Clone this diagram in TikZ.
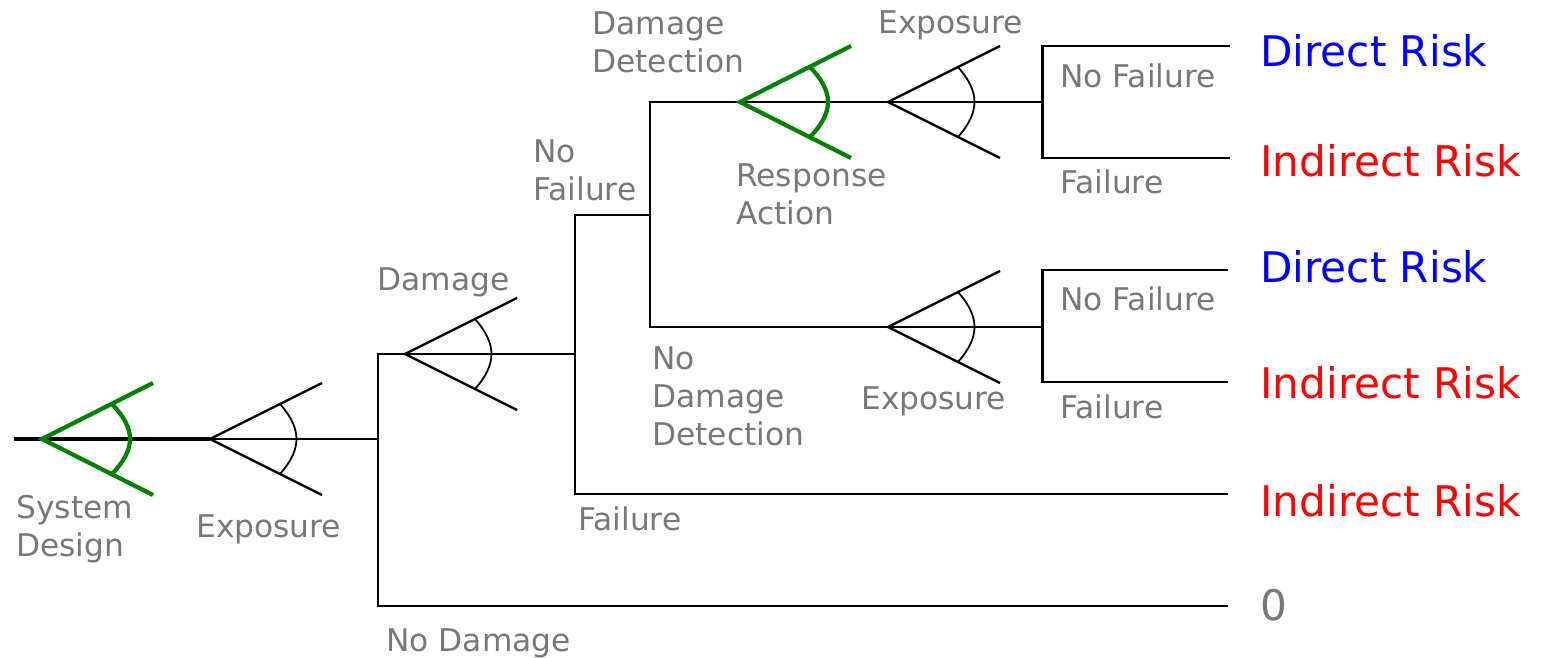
\documentclass[tikz,border=0pt]{standalone}
\usepackage{fontspec}
\setmainfont{DejaVu Sans}
\usepackage{xcolor}
\usetikzlibrary{math}
\definecolor{labelgray}{RGB}{120,120,120}
\definecolor{fangreen}{RGB}{0,128,0}

\tikzset{
 branch/.style={line width=1.7pt},
 fanarm/.style={line width=1.3pt},
 fanarc/.style={line width=1pt},
 greenfan/.style={fangreen, line width=2.4pt},
 lbl/.style={labelgray, font=\fontsize{17.8}{21.8}\selectfont, anchor=base west, inner sep=0pt, align=left},
 outcome/.style={font=\fontsize{24}{29}\selectfont, anchor=base west, inner sep=0pt},
}

\begin{document}
\begin{tikzpicture}[x=0.02cm, y=-0.02cm]
\tikzmath{
\a=112;
\b=56;
\r=70;
\s=35;
\q=92;
}
\useasboundingbox (0,0) rectangle (1546,658);

% decision / chance points
\coordinate (start) at (14,439);
\coordinate (sd) at (42,439);
\coordinate (ex1) at (210,439);
\coordinate (c1) at (378,439);
\coordinate (c1t) at (378,354);
\coordinate (c1b) at (378,606);
\coordinate (dm) at (405,354);
\coordinate (c2) at (575,354);
\coordinate (c2t) at (575,215);
\coordinate (c2b) at (575,494);
\coordinate (c3t) at (650,102);
\coordinate (c3) at (650,215);
\coordinate (c3b) at (650,327);
\coordinate (dd) at (740,102);
\coordinate (ex2) at (888,102);
\coordinate (ex3) at (888,327);
\coordinate (c4) at (1042,102);
\coordinate (c4t) at (1042,46);
\coordinate (c4b) at (1042,158);
\coordinate (c5) at (1042,327);
\coordinate (c5t) at (1042,270);
\coordinate (c5b) at (1042,382);
\coordinate (e1) at (1230,46);
\coordinate (e2) at (1230,158);
\coordinate (e3) at (1228,270);
\coordinate (e4) at (1228,382);
\coordinate (e5) at (1228,494);
\coordinate (e6) at (1228,606);

% branches
\draw[branch, line width=2pt] (start) -- (ex1);
\draw[branch] (ex1) -- (c1);
\draw[branch] (c2) -- (c1t) -- (c1b) -- (e6);
\draw[branch] (c3) -- (c2t) -- (c2b) -- (e5);
\draw[branch] (c4) -- (c3t) -- (c3b) -- (c5);
\draw[branch] (e1) -- (c4t) -- (c4b) -- (e2);
\draw[branch] (e3) -- (c5t) -- (c5b) -- (e4);

% fans
\foreach \v in {ex1,dm,ex2,ex3}{
 \begin{scope}[shift={(\v)}]
 \draw[fanarm] (\a,-\b) -- (0,0) -- (\a,\b);
 \draw[fanarc] (\r,-\s) .. controls (\q,-10) and (\q,10) .. (\r,\s);
 \end{scope}
}
\foreach \v in {sd,dd}{
 \begin{scope}[shift={(\v)}]
 \draw[greenfan] (\a-1,-\b) -- (0,0) -- (\a-1,\b);
 \draw[greenfan] (\r,-\s) .. controls (\q+2,-10) and (\q+2,10) .. (\r,\s);
 \end{scope}
}

% labels
\node[lbl] (sdlbl) at (16,557) {System\\Design};
\node[lbl] (ex1lbl) at (196,538) {Exposure};
\node[lbl] (dmlbl) at (377,291) {Damage};
\node[lbl] (nodmlbl) at (386,651) {No Damage};
\node[lbl] (nflbl) at (533,201) {No\\Failure};
\node[lbl] (flbl) at (578,531) {Failure};
\node[lbl] (ddlbl) at (592,73) {Damage\\Detection};
\node[lbl] (ralbl) at (736,225) {Response\\Action};
\node[lbl] (ex2lbl) at (878,34) {Exposure};
\node[lbl] (nddlbl) at (652,446) {No\\Damage\\Detection};
\node[lbl] (ex3lbl) at (861,410) {Exposure};
\node[lbl] (nf1lbl) at (1060,88) {No Failure};
\node[lbl] (f1lbl) at (1060,194) {Failure};
\node[lbl] (nf2lbl) at (1060,311) {No Failure};
\node[lbl] (f2lbl) at (1060,419) {Failure};

% outcomes
\node[outcome, blue] (o1) at (1260,67) {Direct Risk};
\node[outcome, red] (o2) at (1260,177) {Indirect Risk};
\node[outcome, blue] (o3) at (1260,283) {Direct Risk};
\node[outcome, red] (o4) at (1260,399) {Indirect Risk};
\node[outcome, red] (o5) at (1260,517) {Indirect Risk};
\node[outcome, labelgray] (o6) at (1260,621) {0};
\end{tikzpicture}
\end{document}
